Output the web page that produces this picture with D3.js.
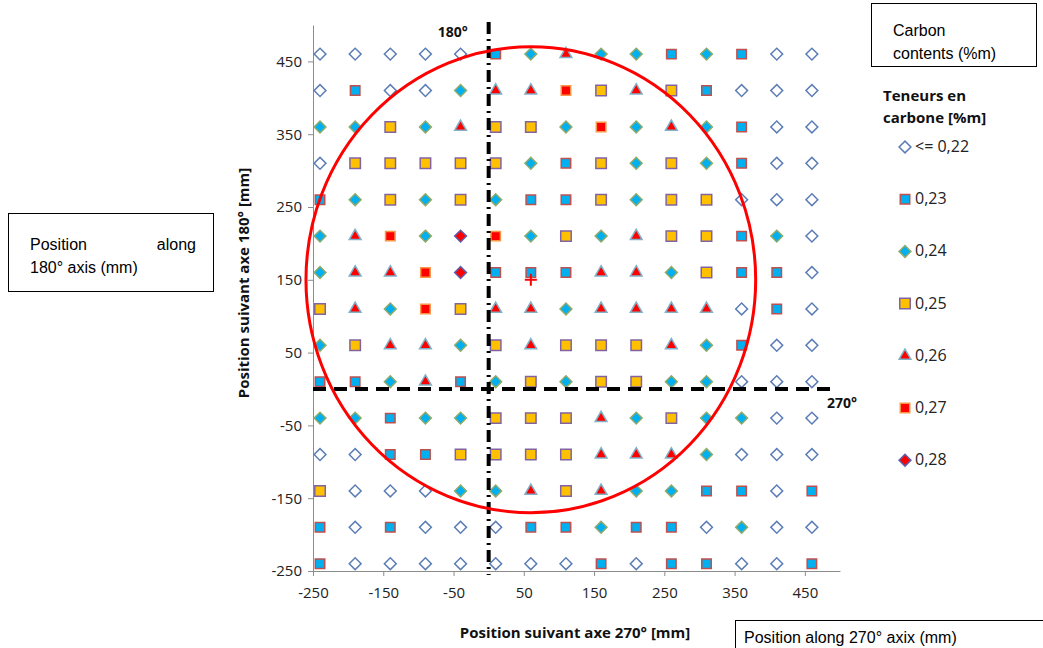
<!DOCTYPE html>
<html>
<head>
<meta charset="utf-8">
<script src="https://cdn.jsdelivr.net/npm/d3@7"></script>
<style>
  body { margin: 0; background: #fff; }
  svg { display: block; }
  .tick text { font-family: "Open Sans", Lato, sans-serif; font-size: 15px; fill: #222; }
  .axis path, .axis line { stroke: #8c8c8c; }
  .boxtxt { font-family: "Liberation Sans", Arial, sans-serif; font-size: 16px; fill: #000; }
  .ttl { font-family: "Open Sans", Lato, sans-serif; font-weight: bold; font-size: 15px; fill: #111; }
</style>
</head>
<body>
<svg width="1043" height="648"></svg>
<script>
// grid positions (mm)
var xVals = [-240, -190, -140, -90, -40, 10, 60, 110, 160, 210, 260, 310, 360, 410, 460];
var yVals = [460, 410, 360, 310, 260, 210, 160, 110, 60, 10, -40, -90, -140, -190, -240];

// carbon class per cell, 0 = <=0,22 ... 6 = 0,28 ; one row per yVals entry
var grid = [
  [0,0,0,0,0, 1,2,4,2,2, 1,2,1,0,0],
  [0,1,0,0,2, 4,4,5,3,4, 3,1,0,0,0],
  [2,2,3,2,4, 3,3,2,5,2, 4,2,1,0,0],
  [0,3,3,3,3, 3,2,1,3,2, 3,2,1,0,0],
  [1,2,3,2,3, 2,1,1,3,2, 3,3,0,0,0],
  [2,4,5,2,6, 5,2,3,2,4, 3,3,1,2,0],
  [2,4,4,5,6, 1,1,1,4,4, 2,3,1,1,0],
  [3,4,2,5,3, 4,4,2,4,4, 4,4,0,1,0],
  [2,3,4,4,2, 3,4,3,3,3, 4,2,1,0,0],
  [1,1,2,4,1, 2,3,2,3,3, 2,2,0,0,0],
  [2,2,1,2,2, 3,3,3,4,2, 3,2,2,0,0],
  [0,0,1,1,3, 3,3,3,4,4, 4,2,0,0,0],
  [3,0,0,0,2, 2,4,3,4,2, 2,1,1,0,1],
  [1,0,1,0,0, 0,1,1,2,1, 1,0,2,0,0],
  [1,0,0,0,0, 0,0,0,1,0, 1,1,0,0,1]
];

var classLabels = ["<= 0,22", "0,23", "0,24", "0,25", "0,26", "0,27", "0,28"];
var xTicks = [-250, -150, -50, 50, 150, 250, 350, 450];
var yTicks = [-250, -150, -50, 50, 150, 250, 350, 450];

// circle (center + radius in mm)
var circleCenter = [60, 150];
var circleRadius = 320;

// marker look per class
var markerStyle = [
  {shape: "diamond", fill: "#fff", stroke: "#5b7db5", size: 70},
  {shape: "square", fill: "#00b0f0", stroke: "#c0504d", size: 90},
  {shape: "diamond", fill: "#00b0f0", stroke: "#8faa6a", size: 70},
  {shape: "square", fill: "#ffc000", stroke: "#8064a2", size: 110},
  {shape: "triangle", fill: "#ff0000", stroke: "#7fb2c8", size: 60},
  {shape: "square", fill: "#ff0000", stroke: "#f79646", size: 90},
  {shape: "diamond", fill: "#ff0000", stroke: "#5a5fb0", size: 70}
];

var margin = {top: 25, left: 313};
var width = 527, height = 546;

var svg = d3.select("svg");
var g = svg.append("g").attr("transform", "translate(" + margin.left + "," + margin.top + ")");

var x = d3.scaleLinear().domain([-250, 500]).range([0, width]);
var y = d3.scaleLinear().domain([-250, 500]).range([height, 0]);

function symbolPath(st) {
  var type = st.shape == "triangle" ? d3.symbolTriangle : d3.symbolSquare;
  return d3.symbol().type(type).size(st.size)();
}
function symbolRot(st) {
  return st.shape == "diamond" ? " rotate(45)" : "";
}

// axes (plain hyphen for negatives, like the original)
var fmt = function(d) { return String(d); };
var xAxis = d3.axisBottom(x).tickValues(xTicks).tickFormat(fmt).tickSize(5).tickSizeOuter(0).tickPadding(11);
var yAxis = d3.axisLeft(y).tickValues(yTicks).tickFormat(fmt).tickSize(5).tickSizeOuter(0).tickPadding(6);

g.append("g").attr("class", "axis").attr("transform", "translate(0," + height + ")").call(xAxis);
g.append("g").attr("class", "axis").call(yAxis);

// flatten grid
var cells = [];
yVals.forEach(function(yv, i) {
  xVals.forEach(function(xv, j) {
    cells.push({x: xv, y: yv, c: grid[i][j]});
  });
});

g.selectAll(".pt")
  .data(cells)
  .enter()
  .append("path")
  .attr("class", "pt")
  .attr("d", function(d) { return symbolPath(markerStyle[d.c]); })
  .attr("transform", function(d) {
    return "translate(" + x(d.x) + "," + y(d.y) + ")" + symbolRot(markerStyle[d.c]);
  })
  .attr("fill", function(d) { return markerStyle[d.c].fill; })
  .attr("stroke", function(d) { return markerStyle[d.c].stroke; })
  .attr("stroke-width", 1.5);

// reference axes (dashed)
g.append("line")
  .attr("x1", x(0)).attr("x2", x(0))
  .attr("y1", -3).attr("y2", height + 4)
  .attr("stroke", "#000").attr("stroke-width", 4)
  .attr("stroke-dasharray", "12,5,2,5");
g.append("line")
  .attr("x1", 0).attr("x2", width - 5)
  .attr("y1", y(0)).attr("y2", y(0))
  .attr("stroke", "#000").attr("stroke-width", 4)
  .attr("stroke-dasharray", "13,8");

// circle
g.append("ellipse")
  .attr("cx", x(circleCenter[0])).attr("cy", y(circleCenter[1]))
  .attr("rx", x(circleRadius) - x(0)).attr("ry", y(0) - y(circleRadius))
  .attr("fill", "none").attr("stroke", "#ff0000").attr("stroke-width", 3);

// center cross
var cx = x(circleCenter[0]), cy = y(circleCenter[1]);
g.append("path")
  .attr("d", "M" + (cx - 6) + "," + cy + "H" + (cx + 6) + "M" + cx + "," + (cy - 6) + "V" + (cy + 6))
  .attr("stroke", "#ff0000").attr("stroke-width", 2);

// axis direction labels
g.append("text").attr("class", "ttl").attr("x", x(0) - 36).attr("y", 12)
  .attr("text-anchor", "middle").style("font-size", "14px")
  .text("180°");
g.append("text").attr("class", "ttl").attr("x", width - 13).attr("y", y(0) + 19)
  .style("font-size", "14px")
  .text("270°");

// axis titles
svg.append("text").attr("class", "ttl")
  .attr("transform", "translate(249,283) rotate(-90)")
  .attr("text-anchor", "middle")
  .text("Position suivant axe 180° [mm]");
svg.append("text").attr("class", "ttl")
  .attr("x", 575).attr("y", 638)
  .attr("text-anchor", "middle")
  .text("Position suivant axe 270° [mm]");

// legend
var leg = svg.append("g").attr("transform", "translate(883,0)");
leg.append("text").attr("class", "ttl").attr("x", 0).attr("y", 101)
  .text("Teneurs en");
leg.append("text").attr("class", "ttl").attr("x", 0).attr("y", 123)
  .text("carbone [%m]");

var item = leg.selectAll(".li")
  .data(classLabels)
  .enter()
  .append("g")
  .attr("transform", function(d, i) { return "translate(0," + (147 + i * 52.2) + ")"; });
item.append("path")
  .attr("d", function(d, i) { return symbolPath(markerStyle[i]); })
  .attr("transform", function(d, i) { return "translate(22,0)" + symbolRot(markerStyle[i]); })
  .attr("fill", function(d, i) { return markerStyle[i].fill; })
  .attr("stroke", function(d, i) { return markerStyle[i].stroke; })
  .attr("stroke-width", 1.5);
item.append("text")
  .attr("x", 32).attr("y", 5)
  .style("font-family", "\"Open Sans\", Lato, sans-serif").style("font-size", "16px").style("fill", "#222")
  .text(function(d) { return d; });

// translation boxes
svg.append("rect").attr("x", 871.5).attr("y", 3.5).attr("width", 165).attr("height", 63)
  .attr("fill", "#fff").attr("stroke", "#000");
svg.append("text").attr("class", "boxtxt").attr("x", 893).attr("y", 36).text("Carbon");
svg.append("text").attr("class", "boxtxt").attr("x", 893).attr("y", 59).text("contents (%m)");

svg.append("rect").attr("x", 8.5).attr("y", 213.5).attr("width", 205).attr("height", 78)
  .attr("fill", "#fff").attr("stroke", "#000");
svg.append("text").attr("class", "boxtxt").attr("x", 30).attr("y", 250).text("Position");
svg.append("text").attr("class", "boxtxt").attr("x", 196).attr("y", 250).attr("text-anchor", "end").text("along");
svg.append("text").attr("class", "boxtxt").attr("x", 30).attr("y", 273).text("180° axis (mm)");

svg.append("rect").attr("x", 735.5).attr("y", 620.5).attr("width", 320).attr("height", 40)
  .attr("fill", "#fff").attr("stroke", "#000");
svg.append("text").attr("class", "boxtxt").attr("x", 744).attr("y", 643).text("Position along 270° axix (mm)");
</script>
</body>
</html>
